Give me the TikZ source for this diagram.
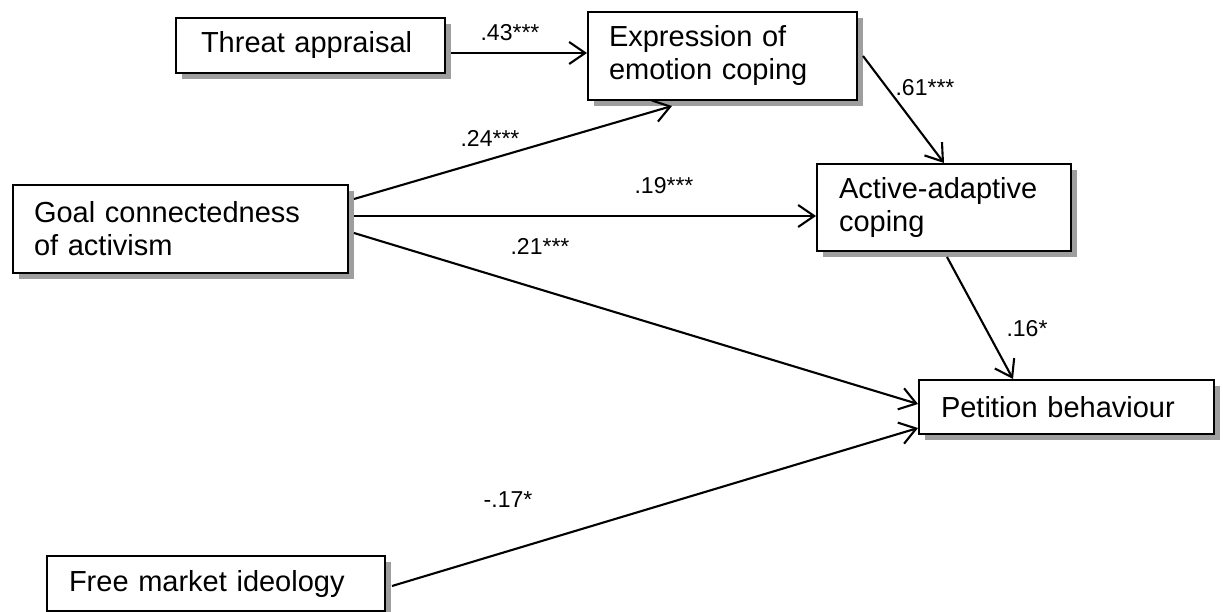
\documentclass[tikz,border=0pt]{standalone}
\usepackage{fontspec}
\setmainfont{Liberation Sans}
\usetikzlibrary{arrows.meta,shadows,calc}
\begin{document}
\begin{tikzpicture}[x=1pt,y=-1pt,
  box/.style={draw=black, line width=2pt, fill=white, rectangle,
    anchor=north west, align=left, inner ysep=0pt,
    font=\fontsize{29}{33}\selectfont,
    drop shadow={shadow xshift=6pt, shadow yshift=-6pt, opacity=1, fill=black!38}},
  arr/.style={line width=2.1pt,
    -{Straight Barb[length=16pt,width=22pt,line width=2.1pt]}},
  coef/.style={font=\fontsize{23}{26}\selectfont, inner sep=0pt}]
\useasboundingbox[fill=white] (0,0) rectangle (1223,612);

% variables
\node[box, text width=219pt, inner xsep=25pt, minimum height=55pt] (thr) at (175,17) {Threat appraisal};
\node[box, text width=227pt, inner xsep=21pt, minimum height=88pt] (exp) at (587,11) {Expression of\\emotion coping};
\node[box, text width=293pt, inner xsep=21pt, minimum height=88pt] (goal) at (12,184) {Goal connectedness\\of activism};
\node[box, text width=210pt, inner xsep=22pt, minimum height=87pt] (act) at (816,163) {Active-adaptive\\coping};
\node[box, text width=251pt, inner xsep=22pt, minimum height=54pt] (pet) at (918,379) {Petition behaviour};
\node[box, text width=294pt, inner xsep=22pt, minimum height=55pt] (free) at (46,555) {Free market ideology};

% paths
\draw[arr] ($(thr.east)+(5,7.5)$) -- ($(exp.west)+(0,-3)$);
\draw[arr] ($(goal.east)+(5,-30)$) -- ($(exp.south west)+(85,5)$);
\draw[arr] ($(goal.east)+(5,-13)$) -- ($(act.west)+(0,8.5)$);
\draw[arr] ($(goal.east)+(5,4)$) -- ($(pet.west)+(0,-3)$);
\draw[arr] ($(free.east)+(6,2.5)$) -- ($(pet.west)+(0,21)$);
\draw[arr] ($(exp.east)+(5,0)$) -- ($(act.north west)+(128,0)$);
\draw[arr] ($(act.south west)+(131,5)$) -- ($(pet.north west)+(95,0)$);

% coefficients
\node[coef] (c43) at (510,33) {.43***};
\node[coef] (c24) at (490,138) {.24***};
\node[coef] (c19) at (664,186) {.19***};
\node[coef] (c21) at (540,246) {.21***};
\node[coef] (c17) at (508,500) {-.17*};
\node[coef] (c61) at (925,88) {.61***};
\node[coef] (c16) at (1027,329) {.16*};
\end{tikzpicture}
\end{document}
